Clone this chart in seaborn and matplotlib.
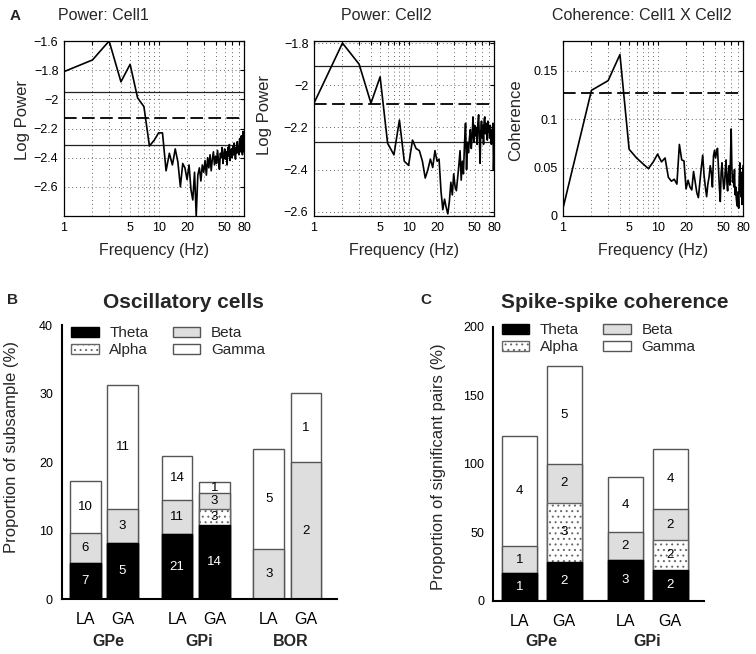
import numpy as np
import pandas as pd
import matplotlib
matplotlib.use("Agg")
import matplotlib.pyplot as plt
import seaborn as sns
from matplotlib.patches import Patch
from matplotlib.ticker import NullLocator, FixedLocator
from matplotlib.transforms import blended_transform_factory

# ---------------- data: panel A (spectra) ----------------
freq = list(range(1, 81))

cell1_power = [
    -1.81, -1.73, -1.60, -1.88, -1.76, -1.99, -2.05, -2.32, -2.28, -2.23,
    -2.23, -2.49, -2.37, -2.45, -2.34, -2.43, -2.60, -2.44, -2.47, -2.55,
    -2.45, -2.62, -2.69, -2.50, -2.80, -2.52, -2.47, -2.56, -2.45, -2.50,
    -2.42, -2.52, -2.40, -2.47, -2.38, -2.49, -2.41, -2.36, -2.45, -2.39,
    -2.44, -2.35, -2.42, -2.48, -2.37, -2.40, -2.33, -2.44, -2.38, -2.34,
    -2.41, -2.36, -2.45, -2.33, -2.39, -2.31, -2.42, -2.37, -2.34, -2.40,
    -2.32, -2.38, -2.30, -2.36, -2.41, -2.33, -2.37, -2.29, -2.35, -2.32,
    -2.38, -2.27, -2.34, -2.36, -2.25, -2.33, -2.38, -2.22, -2.30, -2.36,
]

cell2_power = [
    -2.085, -1.80, -1.90, -2.085, -1.96, -2.275, -2.33, -2.165, -2.36, -2.38,
    -2.26, -2.30, -2.31, -2.36, -2.44, -2.40, -2.35, -2.39, -2.31, -2.36,
    -2.35, -2.50, -2.59, -2.54, -2.58, -2.61, -2.55, -2.46, -2.52, -2.42,
    -2.48, -2.50, -2.44, -2.38, -2.31, -2.45, -2.36, -2.42, -2.28, -2.18,
    -2.40, -2.27, -2.32, -2.25, -2.21, -2.30, -2.24, -2.15, -2.27, -2.19,
    -2.24, -2.20, -2.28, -2.18, -2.14, -2.25, -2.37, -2.22, -2.17, -2.25,
    -2.19, -2.28, -2.16, -2.15, -2.23, -2.18, -2.21, -2.26, -2.17, -2.22,
    -2.19, -2.25, -2.19, -2.23, -2.28, -2.21, -2.26, -2.18, -2.40, -2.31,
]

coherence = [
    0.008, 0.130, 0.140, 0.167, 0.069, 0.060, 0.054, 0.049, 0.056, 0.064,
    0.056, 0.060, 0.040, 0.036, 0.038, 0.033, 0.074, 0.058, 0.057, 0.028,
    0.037, 0.030, 0.027, 0.046, 0.035, 0.024, 0.019, 0.035, 0.050, 0.063,
    0.042, 0.030, 0.020, 0.033, 0.040, 0.052, 0.045, 0.030, 0.062, 0.068,
    0.060, 0.066, 0.070, 0.050, 0.030, 0.015, 0.045, 0.055, 0.040, 0.028,
    0.032, 0.048, 0.058, 0.035, 0.026, 0.044, 0.052, 0.032, 0.060, 0.090,
    0.050, 0.035, 0.042, 0.030, 0.048, 0.022, 0.030, 0.018, 0.012, 0.010,
    0.025, 0.008, 0.040, 0.055, 0.030, 0.020, 0.045, 0.012, 0.038, 0.052,
]

cell1_bounds = [-1.95, -2.31]
cell1_sig = -2.13
cell2_bounds = [-1.91, -2.27]
cell2_sig = -2.09
coh_sig = 0.127

grid_freqs = [1, 2, 3, 4, 5, 6, 7, 8, 9, 10, 20, 30, 40, 50, 60, 70, 80]
labeled_freqs = [1, 5, 10, 20, 50, 80]

cell1_yticks = [-2.6, -2.4, -2.2, -2.0, -1.8, -1.6]
cell1_yticklabels = ["\u22122.6", "\u22122.4", "\u22122.2", "\u22122", "\u22121.8", "\u22121.6"]
cell2_yticks = [-2.6, -2.4, -2.2, -2.0, -1.8]
cell2_yticklabels = ["\u22122.6", "\u22122.4", "\u22122.2", "\u22122", "\u22121.8"]
coh_yticks = [0, 0.05, 0.1, 0.15]
coh_yticklabels = ["0", "0.05", "0.1", "0.15"]

# ---------------- data: panel B (oscillatory cells) ----------------
osc_groups = ["GPe", "GPi", "BOR"]
osc_conditions = ["LA", "GA", "LA", "GA", "LA", "GA"]
osc_positions = [0, 1, 2.46, 3.46, 4.92, 5.92]
osc_theta = [5.26, 8.18, 9.53, 10.85, 0.0, 0.0]
osc_alpha = [0.0, 0.0, 0.0, 2.25, 0.0, 0.0]
osc_beta = [4.46, 4.92, 4.92, 2.40, 7.30, 20.0]
osc_gamma = [7.58, 18.10, 6.45, 1.60, 14.60, 10.07]
osc_theta_n = [7, 5, 21, 14, None, None]
osc_alpha_n = [None, None, None, 3, None, None]
osc_beta_n = [6, 3, 11, 3, 3, 2]
osc_gamma_n = [10, 11, 14, 1, 5, 1]

# ---------------- data: panel C (spike-spike coherence) ----------------
coh_groups = ["GPe", "GPi"]
coh_conditions = ["LA", "GA", "LA", "GA"]
coh_positions = [0, 1, 2.35, 3.35]
coh_theta = [20.0, 28.6, 30.0, 22.2]
coh_alpha = [0.0, 42.9, 0.0, 22.2]
coh_beta = [20.0, 28.6, 20.0, 22.2]
coh_gamma = [80.0, 71.4, 40.0, 44.4]
coh_theta_n = [1, 2, 3, 2]
coh_alpha_n = [None, 3, None, 2]
coh_beta_n = [1, 2, 2, 2]
coh_gamma_n = [4, 5, 4, 4]

band_names = ["Theta", "Alpha", "Beta", "Gamma"]

# ---------------- style ----------------
sns.set_theme(style="white")
plt.rcParams["font.family"] = ["Liberation Sans", "DejaVu Sans"]
plt.rcParams["hatch.linewidth"] = 0.7
plt.rcParams["axes.unicode_minus"] = True

W, H = 756, 654
fig = plt.figure(figsize=(W / 100, H / 100), dpi=100)
fig.patch.set_facecolor("white")


def axes_px(l, t, r, b):
    return fig.add_axes([l / W, 1 - b / H, (r - l) / W, (b - t) / H])


def ftext(x, y, s, **kw):
    fig.text(x / W, 1 - y / H, s, **kw)


# ---------------- panel A ----------------
panelsA = [
    dict(box=(64, 41, 244, 216), vals=cell1_power, ylim=(-2.8, -1.6),
         yt=cell1_yticks, ytl=cell1_yticklabels, solid=cell1_bounds, dashed=cell1_sig,
         title="Power: Cell1", tx=103, ylab="Log Power", ylx=23, yly=120),
    dict(box=(314, 41, 494, 216), vals=cell2_power, ylim=(-2.62, -1.79),
         yt=cell2_yticks, ytl=cell2_yticklabels, solid=cell2_bounds, dashed=cell2_sig,
         title="Power: Cell2", tx=386, ylab="Log Power", ylx=265, yly=115),
    dict(box=(563, 41, 743, 216), vals=coherence, ylim=(0, 0.181),
         yt=coh_yticks, ytl=coh_yticklabels, solid=[], dashed=coh_sig,
         title="Coherence: Cell1 X Cell2", tx=642, ylab="Coherence", ylx=516, yly=120),
]

for p in panelsA:
    ax = axes_px(*p["box"])
    df = pd.DataFrame({"Frequency": freq, "Value": p["vals"]})
    for v in p["solid"]:
        ax.axhline(v, color="#222222", lw=0.9, zorder=2)
    ax.axhline(p["dashed"], color="black", lw=1.3, ls=(0, (7, 3)), zorder=2)
    sns.lineplot(data=df, x="Frequency", y="Value", ax=ax, color="black", lw=1.2, zorder=3)
    ax.set_xscale("log")
    ax.set_xlim(1, 80)
    ax.set_ylim(*p["ylim"])
    ax.xaxis.set_major_locator(FixedLocator(grid_freqs))
    ax.xaxis.set_minor_locator(NullLocator())
    ax.set_xticklabels([str(f) if f in labeled_freqs else "" for f in grid_freqs])
    ax.set_yticks(p["yt"])
    ax.set_yticklabels(p["ytl"])
    ax.set_xlabel("")
    ax.set_ylabel("")
    ax.grid(True, color="#666666", lw=0.7, ls=(0, (1, 3)))
    ax.set_axisbelow(True)
    for s in ax.spines.values():
        s.set_visible(True)
        s.set_color("black")
        s.set_linewidth(0.9)
    ax.tick_params(direction="in", length=3, width=0.8, top=True, right=True,
                   labelsize=9, pad=4, colors="black")
    ftext(p["tx"], 16, p["title"], fontsize=11.5, ha="center", va="center")
    ftext((p["box"][0] + p["box"][2]) / 2, 250, "Frequency (Hz)", fontsize=11.5,
          ha="center", va="center")
    ftext(p["ylx"], p["yly"], p["ylab"], fontsize=12, ha="center", va="center",
          rotation=90)

ftext(15, 16, "A", fontsize=11, fontweight="bold", ha="center", va="center")

# ---------------- stacked bar panels ----------------
band_styles = [
    dict(fc="black", ec="black", hatch=None, txt="white"),
    dict(fc="white", ec="#666666", hatch="...", txt="black"),
    dict(fc="#dedede", ec="#555555", hatch=None, txt="black"),
    dict(fc="white", ec="#555555", hatch=None, txt="black"),
]


def stacked_panel(ax, positions, layers, counts, width, fs):
    tops = np.cumsum(np.array(layers, dtype=float), axis=0)
    bottoms = tops - np.array(layers, dtype=float)
    # draw from the tallest cumulative layer downwards so lower bands cover upper ones
    for i in reversed(range(len(layers))):
        st = band_styles[i]
        df = pd.DataFrame({"pos": positions, "top": tops[i]})
        kw = dict(edgecolor=st["ec"], linewidth=1.0)
        if st["hatch"]:
            kw["hatch"] = st["hatch"]
        sns.barplot(data=df, x="pos", y="top", native_scale=True, width=width,
                    color=st["fc"], saturation=1, errorbar=None, ax=ax, **kw)
    for i in range(len(layers)):
        for j, n in enumerate(counts[i]):
            if n is None:
                continue
            y = bottoms[i][j] + layers[i][j] / 2
            ax.text(positions[j], y, str(n), ha="center", va="center",
                    fontsize=fs, color=band_styles[i]["txt"], zorder=5)


def style_bar_axes(ax, positions, conditions, groups, group_x, ylim, yticks):
    ax.set_ylim(*ylim)
    ax.set_yticks(yticks)
    ax.set_xticks(positions)
    ax.set_xticklabels(conditions)
    ax.set_xlabel("")
    ax.set_ylabel("")
    for side in ["top", "right"]:
        ax.spines[side].set_visible(False)
    for side in ["left", "bottom"]:
        ax.spines[side].set_color("black")
        ax.spines[side].set_linewidth(1.5)
    ax.tick_params(axis="both", direction="out", length=5, width=1.5, colors="black")
    ax.tick_params(axis="x", labelsize=11.5, pad=4.5)
    ax.tick_params(axis="y", labelsize=9, pad=1.5)
    tr = blended_transform_factory(ax.transData, fig.transFigure)
    for gx, g in zip(group_x, groups):
        ax.text(gx, 1 - 646 / H, g, transform=tr, ha="center", va="baseline",
                fontsize=11.5, fontweight="bold")


def band_legend(ax, left_px, top_px):
    handles = []
    for name, st in zip(band_names, band_styles):
        handles.append(Patch(facecolor=st["fc"], edgecolor=st["ec"], lw=1.0,
                             hatch=st["hatch"], label=name))
    ax.legend(handles=handles, ncol=2, loc="upper left",
              bbox_to_anchor=(left_px / W, 1 - top_px / H), bbox_transform=fig.transFigure,
              frameon=False, fontsize=11, handlelength=1.8, handleheight=0.62,
              handletextpad=0.7, columnspacing=1.6, labelspacing=0.2,
              borderpad=0, borderaxespad=0)


# panel B
axB = axes_px(62, 325, 337, 599.3)
stacked_panel(axB, osc_positions, [osc_theta, osc_alpha, osc_beta, osc_gamma],
              [osc_theta_n, osc_alpha_n, osc_beta_n, osc_gamma_n], 0.82, 9.5)
axB.set_xlim(-0.625, 6.75)
style_bar_axes(axB, osc_positions, osc_conditions, osc_groups,
               [np.mean(osc_positions[0:2]) + 0.12, np.mean(osc_positions[2:4]) + 0.1,
                np.mean(osc_positions[4:6]) + 0.1],
               (0, 40), [0, 10, 20, 30, 40])
band_legend(axB, 71, 326)
ftext(183, 302, "Oscillatory cells", fontsize=15, fontweight="bold", ha="center", va="center")
ftext(13, 300, "B", fontsize=11, fontweight="bold", ha="center", va="center")
ftext(12, 447, "Proportion of subsample (%)", fontsize=12, rotation=90,
      ha="center", va="center")

# panel C
axC = axes_px(493.3, 326.7, 704, 600.7)
stacked_panel(axC, coh_positions, [coh_theta, coh_alpha, coh_beta, coh_gamma],
              [coh_theta_n, coh_alpha_n, coh_beta_n, coh_gamma_n], 0.78, 9.5)
axC.set_xlim(-0.575, 4.1)
style_bar_axes(axC, coh_positions, coh_conditions, coh_groups,
               [np.mean(coh_positions[0:2]), np.mean(coh_positions[2:4])],
               (0, 200), [0, 50, 100, 150, 200])
band_legend(axC, 501.7, 323)
ftext(615, 302, "Spike-spike coherence", fontsize=15, fontweight="bold", ha="center", va="center")
ftext(426, 300, "C", fontsize=11, fontweight="bold", ha="center", va="center")
ftext(438, 467, "Proportion of significant pairs (%)", fontsize=12, rotation=90,
      ha="center", va="center")

fig.savefig("out.png", dpi=100, facecolor="white")
